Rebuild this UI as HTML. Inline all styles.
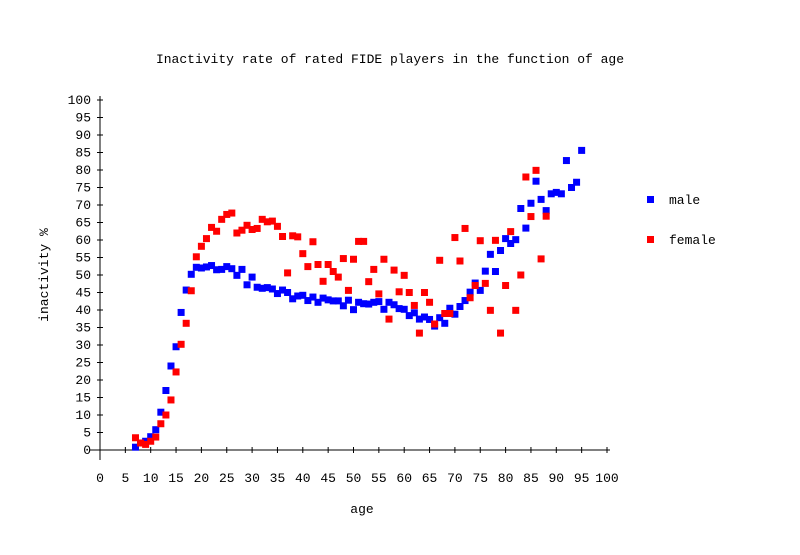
<!DOCTYPE html>
<html><head><meta charset="utf-8"><style>
body{margin:0;background:#fff}
text{font-family:"Liberation Mono","DejaVu Sans Mono",monospace;font-size:13px;fill:#000}
</style></head><body>
<svg id="chart" width="800" height="550" xmlns="http://www.w3.org/2000/svg">
<text x="390" y="63" text-anchor="middle">Inactivity rate of rated FIDE players in the function of age</text>
<text x="362" y="513" text-anchor="middle">age</text>
<text transform="translate(48,275) rotate(-90)" text-anchor="middle">inactivity %</text>
<g id="axes"></g>
<g id="marks"></g>
<g>
<rect x="647" y="196" width="7" height="7" fill="#0000ff"/>
<text x="669" y="204">male</text>
<rect x="647" y="236" width="7" height="7" fill="#ff0000"/>
<text x="669" y="244">female</text>
</g>
</svg>
<script>
const maleStart = 7;
const maleValues = [0.8,2,2.5,3.8,5.8,10.8,17,24,29.5,39.3,45.7,50.2,52.2,52,52.3,52.7,51.5,51.6,52.4,51.8,49.9,51.6,47.2,49.4,46.5,46.2,46.4,46,44.7,45.7,45,43.2,44,44.2,42.7,43.7,42.2,43.4,42.9,42.6,42.6,41.2,42.8,40.1,42.2,41.8,41.7,42.2,42.4,40.2,42.2,41.5,40.4,40.2,38.4,39.2,37.4,38,37.3,35.4,37.8,36.2,40.5,38.8,41,42.7,45.1,47.7,45.6,51.1,55.9,51,57,60.4,59,60.1,69,63.4,70.5,76.8,71.6,68.4,73.2,73.6,73.2,82.7,75,76.5,85.6];
const femaleStart = 7;
const femaleValues = [3.5,2,1.6,2.5,3.7,7.5,10,14.3,22.3,30.2,36.2,45.5,55.2,58.2,60.4,63.6,62.5,65.9,67.3,67.7,62,62.8,64.2,63,63.3,65.9,65.2,65.4,63.9,61,50.6,61.2,60.9,56.1,52.4,59.5,53,48.2,53,51,49.4,54.7,45.6,54.5,59.6,59.6,48.1,51.6,44.6,54.5,37.4,51.4,45.2,49.9,45,41.3,33.4,45,42.2,36,54.2,39,39,60.7,54,63.3,43.5,47,59.8,47.6,39.9,59.9,33.4,47,62.4,39.9,50,78,66.7,79.9,54.6,66.8];
const xTicks = [0,5,10,15,20,25,30,35,40,45,50,55,60,65,70,75,80,85,90,95,100];
const yTicks = [0,5,10,15,20,25,30,35,40,45,50,55,60,65,70,75,80,85,90,95,100];
const NS='http://www.w3.org/2000/svg';
const X = v => 100 + v*5.07;
const Y = v => 450 - v*3.5;
function mk(tag, attrs, parent){const e=document.createElementNS(NS,tag);for(const k in attrs)e.setAttribute(k,attrs[k]);parent.appendChild(e);return e;}
const axes=document.getElementById('axes');
let l=mk('line',{x1:100,y1:96,x2:100,y2:460,stroke:'#000'},axes);


l=mk('line',{x1:90,y1:450,x2:610,y2:450,stroke:'#000'},axes);


xTicks.forEach(t=>{
  const tk=mk('line',{x1:X(t),y1:447,x2:X(t),y2:453,stroke:'#000'},axes);
  
  
  const tx=mk('text',{x:X(t),y:482,'text-anchor':'middle'},axes);
  tx.textContent=t;
  
  
});
yTicks.forEach(t=>{
  const tk=mk('line',{x1:97,y1:Y(t),x2:103,y2:Y(t),stroke:'#000'},axes);
  
  
  const tx=mk('text',{x:91,y:Y(t)+4,'text-anchor':'end'},axes);
  tx.textContent=t;
  
  
});
const marks=document.getElementById('marks');
maleValues.forEach((v,i)=>{
  const r=mk('rect',{x:X(maleStart+i)-3.5,y:Y(v)-3.5,width:7,height:7,fill:'#0000ff'},marks);
  
  
});
femaleValues.forEach((v,i)=>{
  const r=mk('rect',{x:X(femaleStart+i)-3.5,y:Y(v)-3.5,width:7,height:7,fill:'#ff0000'},marks);
  
  
});
</script>
</body></html>
